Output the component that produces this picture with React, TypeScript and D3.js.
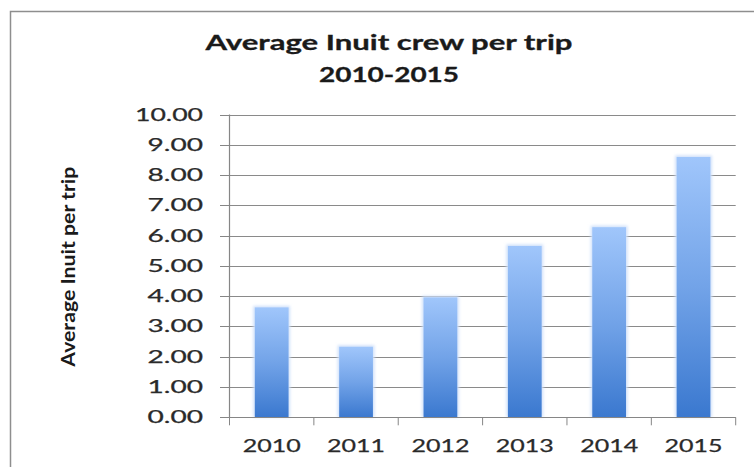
import React from "react";
import * as d3 from "d3";

const categories = ["2010", "2011", "2012", "2013", "2014", "2015"];
const values = [3.63, 2.33, 3.96, 5.66, 6.28, 8.6];
const yTicks = [0, 1, 2, 3, 4, 5, 6, 7, 8, 9, 10];
const titleLines = ["Average Inuit crew per trip", "2010-2015"];
const yAxisTitle = "Average Inuit per trip";

const W = 754;
const H = 467;
const plot = { left: 229.5, right: 735.7, top: 114.6, bottom: 417.3 };
const FONT = "Lato, 'Open Sans', sans-serif";

export default function App() {
  const x = d3
    .scaleBand<string>()
    .domain(categories)
    .range([plot.left, plot.right])
    .paddingInner(0.6)
    .paddingOuter(0.3);
  const y = d3.scaleLinear().domain([0, 10]).range([plot.bottom, plot.top]);
  const step = x.step();
  const boundaries = d3.range(categories.length + 1).map((i) => plot.left + i * step);
  const fmt = d3.format(".2f");

  return (
    <svg
      width={W}
      height={H}
      style={{ position: "absolute", left: 0, top: 0, background: "#fff", overflow: "hidden" }}
    >
      <defs>
        <linearGradient id="barGrad" x1="0" y1="0" x2="0" y2="1">
          <stop offset="0%" stopColor="#a0c6fb" />
          <stop offset="50%" stopColor="#72a3e8" />
          <stop offset="100%" stopColor="#3a78cf" />
        </linearGradient>
        <filter id="glow" x="-50%" y="-50%" width="200%" height="200%">
          <feGaussianBlur stdDeviation="1.6" />
        </filter>
      </defs>
      <rect x={0} y={0} width={W} height={H} fill="#fff" />
      {/* chart frame */}
      <rect x={10.5} y={11.5} width={800} height={520} fill="#fff" stroke="#8e8e8e" strokeWidth={1.5} />

      {/* title */}
      {titleLines.map((t, i) => (
        <text
          key={t}
          x={389}
          y={i === 0 ? 50 : 82}
          textAnchor="middle"
          fontFamily={FONT}
          fontWeight="bold"
          fontSize={21}
          fill="#1a1a1a"
          stroke="#1a1a1a"
          strokeWidth={0.3}
          textLength={i === 0 ? 367 : 140}
          lengthAdjust="spacingAndGlyphs"
        >
          {t}
        </text>
      ))}

      {/* gridlines */}
      {yTicks.map((t) => (
        <line
          key={"g" + t}
          x1={plot.left}
          x2={plot.right}
          y1={Math.round(y(t)) + 0.5}
          y2={Math.round(y(t)) + 0.5}
          stroke="#8a8a8a"
          strokeWidth={1}
        />
      ))}

      {/* bars */}
      {categories.map((c, i) => (
        <g key={c}>
          <rect
            x={(x(c) as number) - 1.5}
            y={y(values[i]) - 1.5}
            width={x.bandwidth() + 3}
            height={y(0) - y(values[i]) + 1.5}
            fill="#cfe0fa"
            filter="url(#glow)"
          />
          <rect
            x={x(c)}
            y={y(values[i])}
            width={x.bandwidth()}
            height={y(0) - y(values[i])}
            fill="url(#barGrad)"
          />
        </g>
      ))}

      {/* y axis */}
      <line
        x1={plot.left}
        x2={plot.left}
        y1={y(10)}
        y2={y(0)}
        stroke="#868686"
        strokeWidth={1.2}
      />
      {yTicks.map((t) => (
        <g key={"t" + t}>
          <line
            x1={220}
            x2={plot.left}
            y1={Math.round(y(t)) + 0.5}
            y2={Math.round(y(t)) + 0.5}
            stroke="#868686"
          />
          <text
            x={203}
            y={y(t) + 6}
            textAnchor="end"
            fontFamily={FONT}
            fontSize={17}
            fill="#2a2a2a"
            stroke="#2a2a2a"
            strokeWidth={0.25}
            textLength={t === 10 ? 68 : 55.5}
            lengthAdjust="spacingAndGlyphs"
          >
            {fmt(t)}
          </text>
        </g>
      ))}

      {/* x axis */}
      <line
        x1={plot.left}
        x2={plot.right}
        y1={Math.round(y(0)) + 0.5}
        y2={Math.round(y(0)) + 0.5}
        stroke="#868686"
        strokeWidth={1.2}
      />
      {boundaries.map((bx, i) => (
        <line key={"b" + i} x1={bx} x2={bx} y1={y(0)} y2={y(0) + 8} stroke="#868686" />
      ))}
      {categories.map((c) => (
        <text
          key={"l" + c}
          x={(x(c) as number) + x.bandwidth() / 2}
          y={452}
          textAnchor="middle"
          fontFamily={FONT}
          fontSize={18}
          fill="#2a2a2a"
          stroke="#2a2a2a"
          strokeWidth={0.25}
          textLength={58}
          lengthAdjust="spacingAndGlyphs"
        >
          {c}
        </text>
      ))}

      {/* y axis title */}
      <text
        transform="translate(75,266.7) scale(1.25,1) rotate(-90)"
        textAnchor="middle"
        fontFamily={FONT}
        fontWeight="bold"
        fontSize={15}
        fill="#1a1a1a"
        textLength={200}
        lengthAdjust="spacingAndGlyphs"
      >
        {yAxisTitle}
      </text>
    </svg>
  );
}
